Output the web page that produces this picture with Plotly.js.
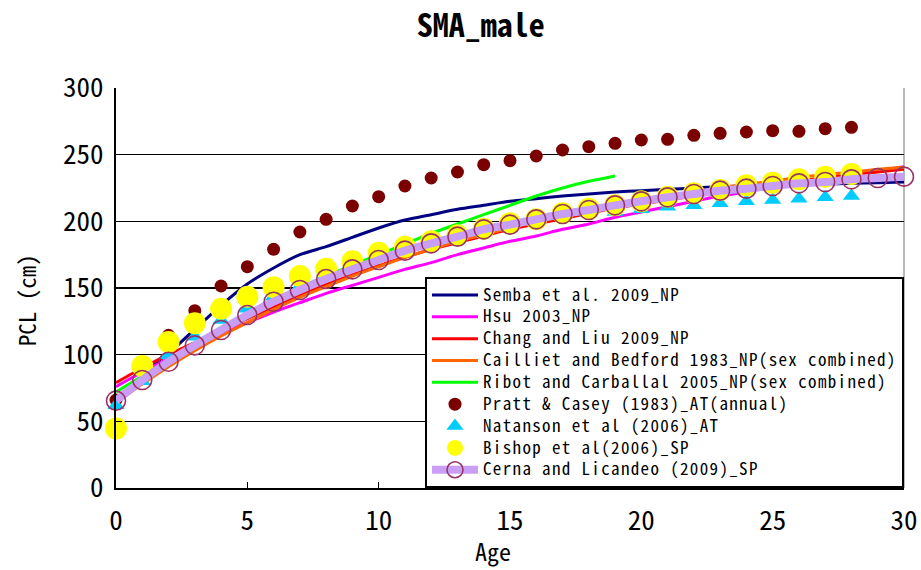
<!DOCTYPE html>
<html>
<head>
<meta charset="utf-8">
<script src="https://cdn.plot.ly/plotly-3.0.1.min.js"></script>
<style>
html,body{margin:0;padding:0;background:#fff;}
#chart{width:921px;height:570px;}
.legendtext{font-size:17px !important; letter-spacing:1.35px;}
</style>
</head>
<body>
<div id="chart"></div>
<script>
// ---- data (ages in years, PCL in cm) ----
const sembaAge = [1,2,3,4,5,6,7,8,9,10,11,12,13,14,15,16,17,18,19,20,21,22,23,24,25,26,27,28,29,30];
const sembaPCL = [87,101,119,137,153,165,175,181,188,195,201,205,209,212,215,217,219,220.5,222,223,224,225,226,226.5,227,227.5,228,228.5,229,229.5];

const hsuAge = [0,1,2,3,4,5,6,7,8,9,10,11,12,13,14,15,16,17,18,19,20,21,22,23,24,25,26,27,28,29,30];
const hsuPCL = [76,87,97,107,116,124,132,139,146,152,158,164,169,175,180,185,189,194,198,203,207,211,215,219,222,226,229,232,235,238,241];

const changAge = [0,1,2,3,4,5,6,7,8,9,10,11,12,13,14,15,16,17,18,19,20,21,22,23,24,25,26,27,28,29,30];
const changPCL = [79,90,100,109,118,127,136,145,153,160,167,173,179,184,189,194,198,202,206,210,213,216,219,222,225,228,230,233,235,237,239];

const caillietAge = [0,1,2,3,4,5,6,7,8,9,10,11,12,13,14,15,16,17,18,19,20,21,22,23,24,25,26,27,28,29,30];
const caillietPCL = [64,78,91,103,114,124,134,143,151,159,166,173,179,185,190,195,200,204,208,212,216,219,222,225,228,230,233,235,237,239,240.5];

const ribotAge = [0,1,2,3,4,5,6,7,8,9,10,11,12,13,14,15,16,17,18,19];
const ribotPCL = [72,84,96,108,119,130,140,150,159,167,175,183,191,198,205,212,219,225,230,234];

const prattAge = [0,1,2,3,4,5,6,7,8,9,10,11,12,13,14,15,16,17,18,19,20,21,22,23,24,25,26,27,28];
const prattPCL = [66,90,114.5,133,151.5,166,179,192,201.5,211.5,218.5,226.5,232.5,237,242.5,245.5,249,253.5,256,258.5,261,261.5,264.5,266,267,268,267.5,269.5,270.5];

const natansonAge = [0,1,2,3,4,5,6,7,8,9,10,11,12,13,14,15,16,17,18,19,20,21,22,23,24,25,26,27,28];
const natansonPCL = [62,80,99.5,113.5,126,134.5,143.5,151.5,160,168,178,184,188,193,197.5,200,203,205,206,207,209,211,212,213.5,215,216,217,218,219];

const bishopAge = [0,1,2,3,4,5,6,7,8,9,10,11,12,13,14,15,16,17,18,19,20,21,22,23,24,25,26,27,28];
const bishopPCL = [44.7,91.5,109.5,123.5,134.5,143.5,150.5,159,164.5,170,176.5,181,185,189.5,194.5,198.5,201.5,206,209.5,212,215,218.5,221,223.5,227,229,231.5,233.5,235.5];

const cernaAge = [0,1,2,3,4,5,6,7,8,9,10,11,12,13,14,15,16,17,18,19,20,21,22,23,24,25,26,27,28,29,30];
const cernaPCL = [65.5,81,94.7,107,118.5,129.7,139.7,148.5,156.7,164,171,178,183.5,188.5,194,197.5,201.5,205.5,208.5,212,215,218,220.5,223,224.5,226.5,228.5,229.5,231.5,232.5,233.5];

const names = [
  'Semba et al. 2009_NP',
  'Hsu 2003_NP',
  'Chang and Liu 2009_NP',
  'Cailliet and Bedford 1983_NP(sex combined)',
  'Ribot and Carballal 2005_NP(sex combined)',
  'Pratt & Casey (1983)_AT(annual)',
  'Natanson et al (2006)_AT',
  'Bishop et al(2006)_SP',
  'Cerna and Licandeo (2009)_SP'
];

function lineTrace(x, y, name, color) {
  return {x: x, y: y, name: name, type: 'scatter', mode: 'lines',
          line: {color: color, width: 3, shape: 'spline', smoothing: 0.6},
          cliponaxis: false};
}

const traces = [
  lineTrace(sembaAge, sembaPCL, names[0], '#000080'),
  lineTrace(hsuAge, hsuPCL, names[1], '#ff00ff'),
  lineTrace(changAge, changPCL, names[2], '#ff0000'),
  lineTrace(caillietAge, caillietPCL, names[3], '#ff6600'),
  lineTrace(ribotAge, ribotPCL, names[4], '#00ff00'),
  {x: prattAge, y: prattPCL, name: names[5], type: 'scatter', mode: 'markers',
   marker: {symbol: 'circle', size: 13, color: '#7b0000'}, cliponaxis: false},
  {x: natansonAge, y: natansonPCL, name: names[6], type: 'scatter', mode: 'markers',
   marker: {symbol: 'triangle-up', size: 15, color: '#00ccff'}, cliponaxis: false},
  {x: bishopAge, y: bishopPCL, name: names[7], type: 'scatter', mode: 'markers',
   marker: {symbol: 'circle', size: 22, color: '#ffff00'}, cliponaxis: false},
  {x: cernaAge, y: cernaPCL, name: names[8], type: 'scatter', mode: 'lines+markers',
   line: {color: '#c89ff5', width: 8, shape: 'spline', smoothing: 0.6},
   marker: {symbol: 'circle-open', size: 19, color: '#993366', line: {width: 1.6}},
   cliponaxis: false}
];

const fam = '"Noto Sans Mono CJK JP", "Noto Sans CJK JP", monospace';
const axisFont = {family: fam, size: 27, color: '#000'};

const layout = {
  width: 921, height: 570,
  paper_bgcolor: '#fff', plot_bgcolor: '#fff',
  margin: {l: 116, r: 17, t: 88, b: 82},
  title: {text: 'SMA_male', x: 0.522, xref: 'container', xanchor: 'center',
          y: 0.955, yref: 'container', yanchor: 'middle',
          font: {family: fam, size: 32, weight: 'bold', color: '#000'}},
  xaxis: {range: [0, 30], dtick: 5, tick0: 0, showgrid: false, zeroline: false,
          showline: true, linecolor: '#000', linewidth: 2,
          ticks: 'inside', ticklen: 6, tickwidth: 1.5, tickcolor: '#000',
          tickfont: axisFont, ticklabelstandoff: 8},
  yaxis: {range: [0, 300], dtick: 50, tick0: 0, showgrid: true, gridcolor: '#000', gridwidth: 1.5,
          zeroline: false, showline: true, linecolor: '#000', linewidth: 2,
          ticks: 'inside', ticklen: 6, tickwidth: 1.5, tickcolor: '#000',
          tickfont: axisFont, ticklabelstandoff: 5},
  annotations: [
    {text: 'Age', xref: 'paper', yref: 'paper', x: 0.478, y: -0.155,
     xanchor: 'center', yanchor: 'middle', showarrow: false,
     font: {family: fam, size: 24, color: '#000'}},
    {text: 'PCL (cm)', xref: 'paper', yref: 'paper', x: -0.114, y: 0.47,
     xanchor: 'center', yanchor: 'middle', showarrow: false, textangle: -90,
     font: {family: fam, size: 23, color: '#000'}}
  ],
  legend: {x: 1, xanchor: 'right', y: 0, yanchor: 'bottom',
           bgcolor: '#fff', bordercolor: '#000', borderwidth: 2,
           font: {family: '"Noto Sans Mono CJK JP", "Liberation Mono", monospace', size: 14.5, color: '#000'},
           itemwidth: 46, tracegroupgap: 0},
  shapes: [{type: 'line', xref: 'paper', yref: 'paper', x0: 1, x1: 1, y0: 0, y1: 1,
            line: {color: '#a0a0a0', width: 1.5}, layer: 'below'}],
  showlegend: true
};

Plotly.newPlot('chart', traces, layout, {displayModeBar: false, staticPlot: true});
</script>
</body>
</html>
